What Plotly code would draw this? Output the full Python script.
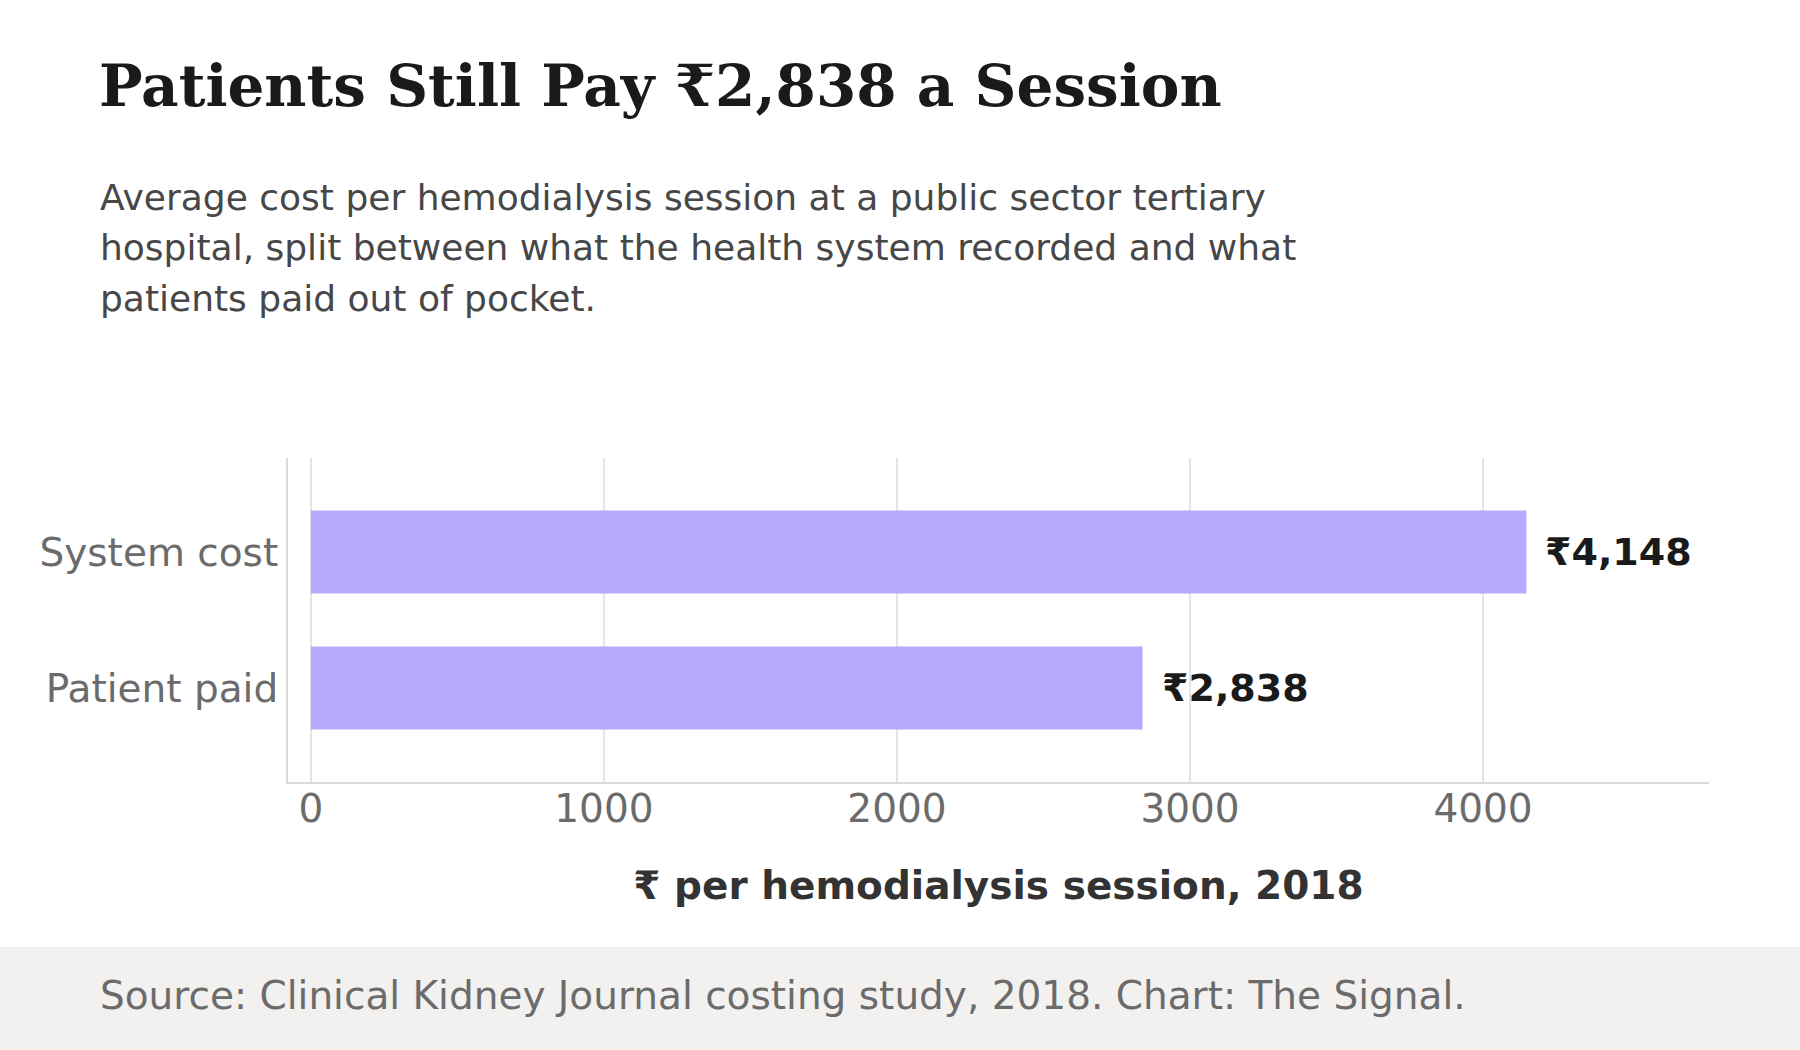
import plotly.graph_objects as go

categories = ["System cost", "Patient paid"]
values = [4148, 2838]
value_labels = ["₹4,148", "₹2,838"]
x_ticks = [0, 1000, 2000, 3000, 4000]

title_text = "Patients Still Pay ₹2,838 a Session"
subtitle_lines = [
    "Average cost per hemodialysis session at a public sector tertiary",
    "hospital, split between what the health system recorded and what",
    "patients paid out of pocket.",
]
x_title = "₹ per hemodialysis session, 2018"
source_text = "Source: Clinical Kidney Journal costing study, 2018. Chart: The Signal."

W, H = 1800, 1050
ML, MR, MT, MB = 288, 91, 458, 268
PW = W - ML - MR
PH = H - MT - MB

def px_x(p):
    return (p - ML) / PW

def px_y(p):
    return (H - MB - p) / PH

BAR = "#b8a9fe"
SANS = "DejaVu Sans"
SERIF = "DejaVu Serif"

fig = go.Figure()
fig.add_trace(go.Bar(
    x=values, y=categories, orientation="h",
    marker=dict(color=BAR, line=dict(width=0)),
    width=0.61, hoverinfo="skip",
))

annotations = []
for v, lab, c in zip(values, value_labels, categories):
    annotations.append(dict(
        x=v, y=c, xref="x", yref="y", text=lab, showarrow=False,
        xanchor="left", yanchor="middle", xshift=17,
        font=dict(family=SANS, size=38, color="#1a1a1a", weight="bold"),
    ))

sub_tops = [175, 225, 276]
for line, t in zip(subtitle_lines, sub_tops):
    annotations.append(dict(
        x=px_x(98), y=px_y(t), xref="paper", yref="paper", text=line,
        showarrow=False, xanchor="left", yanchor="top",
        font=dict(family=SANS, size=36, color="#474747"),
    ))

annotations.append(dict(
    x=px_x(98), y=px_y(971), xref="paper", yref="paper", text=source_text,
    showarrow=False, xanchor="left", yanchor="top",
    font=dict(family=SANS, size=39, color="#6b6b6b"),
))

shapes = [dict(
    type="rect", xref="paper", yref="paper", layer="below",
    x0=px_x(-5), x1=px_x(W + 5), y0=px_y(H + 5), y1=px_y(947),
    fillcolor="#f2f1f0", line=dict(width=0),
)]

fig.update_layout(
    width=W, height=H,
    margin=dict(l=ML, r=MR, t=MT, b=MB, autoexpand=False),
    paper_bgcolor="white", plot_bgcolor="white",
    showlegend=False,
    title=dict(
        text=f"<b>{title_text}</b>", x=99 / W, xref="container", xanchor="left",
        y=1 - 65 / H, yref="container", yanchor="top",
        font=dict(family=SERIF, size=58, color="#1a1a1a"),
    ),
    annotations=annotations,
    shapes=shapes,
    xaxis=dict(
        range=[-78, 4771], tickvals=x_ticks, ticktext=[str(t) for t in x_ticks],
        showgrid=True, gridcolor="#e4e4e4", gridwidth=1.5,
        zeroline=False, showline=True, linecolor="#d9d9d9", linewidth=2,
        ticks="", tickfont=dict(family=SANS, size=39, color="#6b6b6b"),
        ticklabelstandoff=-9,
        title=dict(text=f"<b>{x_title}</b>", standoff=42,
                   font=dict(family=SANS, size=39, color="#333333")),
    ),
    yaxis=dict(
        range=[1.69, -0.69], showgrid=False, zeroline=False,
        showline=True, linecolor="#d9d9d9", linewidth=2, ticks="",
        tickfont=dict(family=SANS, size=39, color="#6b6b6b"),
        ticklabelstandoff=0,
    ),
)

fig.write_html("out.html")
